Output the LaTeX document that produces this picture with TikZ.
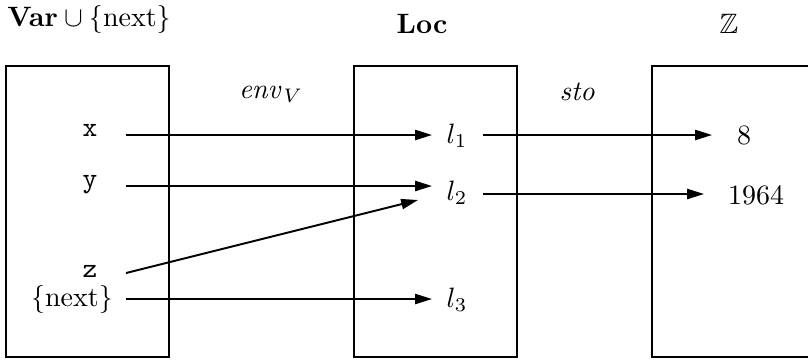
\documentclass[tikz,border=0pt]{standalone}
\usepackage{amssymb}
\usetikzlibrary{arrows.meta}
\begin{document}
\begin{tikzpicture}[x=0.357pt,y=-0.357pt,
  boxline/.style={draw=black,line width=0.9pt},
  arr/.style={line width=0.7pt,-{Triangle[length=6pt,width=3.6pt]}},
  lbl/.style={inner sep=0pt,anchor=base}]
\useasboundingbox (0,0) rectangle (808,360);
% boxes
\draw[boxline] (6,66) rectangle (169,357);
\draw[boxline] (354,66) rectangle (517,357);
\draw[boxline] (812,66) -- (652,66) -- (652,357) -- (812,357);
% titles
\node[lbl] (tvar) at (89,26) {$\mathbf{Var}\cup\{\mathrm{next}\}$};
\node[lbl] (tloc) at (422,33) {\textbf{Loc}};
\node[lbl] (tz) at (729,33) {$\mathbb{Z}$};
\node[lbl] (tenv) at (271,98) {$\mathit{env}_V$};
\node[lbl] (tsto) at (578,100) {$\mathit{sto}$};
% left labels
\node[lbl] (nx) at (90,136) {\texttt{x}};
\node[lbl] (ny) at (90,187) {\texttt{y}};
\node[lbl] (nz) at (90,277) {\texttt{z}};
\node[lbl] (nnext) at (72,306) {$\{\mathrm{next}\}$};
% locations
\node[lbl] (l1) at (457,143) {$l_1$};
\node[lbl] (l2) at (457,200) {$l_2$};
\node[lbl] (l3) at (457,307) {$l_3$};
% values
\node[lbl] (v8) at (744,144) {$8$};
\node[lbl] (v1964) at (756,204) {$1964$};
% arrow end points
\coordinate (xs) at (126,135);   \coordinate (xe) at (432,135);
\coordinate (ys) at (126,186);   \coordinate (ye) at (432,186);
\coordinate (zs) at (126,273);   \coordinate (ze) at (418,200);
\coordinate (ns) at (126,299);   \coordinate (ne) at (432,299);
\coordinate (l1s) at (483,135);  \coordinate (l1e) at (712,135);
\coordinate (l2s) at (483,194);  \coordinate (l2e) at (704,194);
\draw[arr] (xs) -- (xe);
\draw[arr] (ys) -- (ye);
\draw[arr] (zs) -- (ze);
\draw[arr] (ns) -- (ne);
\draw[arr] (l1s) -- (l1e);
\draw[arr] (l2s) -- (l2e);
\end{tikzpicture}
\end{document}
